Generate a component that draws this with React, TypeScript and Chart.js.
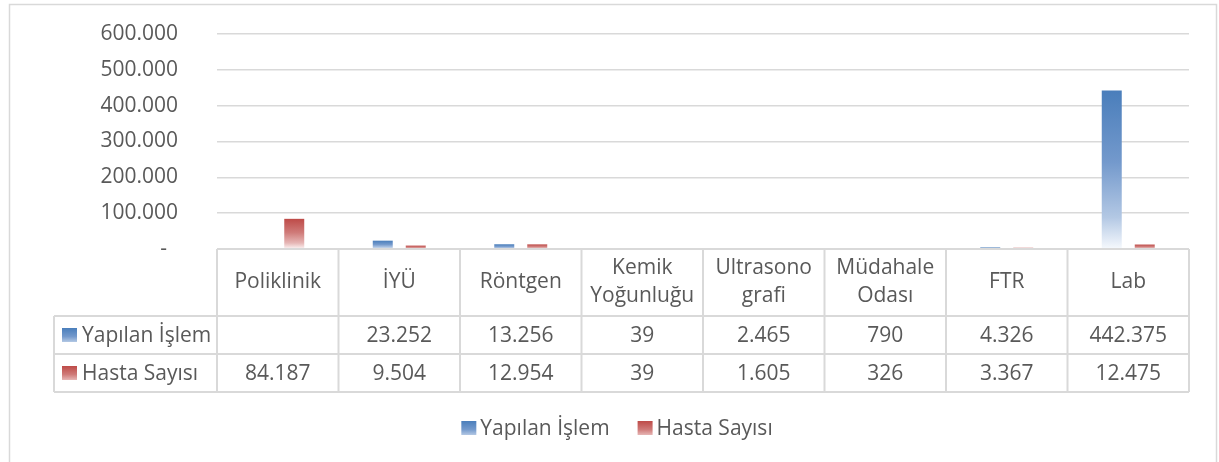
import React, { useEffect, useRef } from "react";
import { Chart, registerables } from "chart.js";

Chart.register(...registerables);

// ---- data ----
const categories: string[][] = [
  ["Poliklinik"],
  ["İYÜ"],
  ["Röntgen"],
  ["Kemik", "Yoğunluğu"],
  ["Ultrasono", "grafi"],
  ["Müdahale", "Odası"],
  ["FTR"],
  ["Lab"],
];
const seriesNames = ["Yapılan İşlem", "Hasta Sayısı"];
const yapilanIslem: (number | null)[] = [null, 23252, 13256, 39, 2465, 790, 4326, 442375];
const hastaSayisi: (number | null)[] = [84187, 9504, 12954, 39, 1605, 326, 3367, 12475];
const yAxisMax = 600000;
const yAxisStep = 100000;

// ---- styles ----
const FONT = '"Open Sans", "DejaVu Sans", sans-serif';
const TEXT = "#595959";
const LINE = "#d9d9d9";
const colors = [
  { top: "#4A7EBB", mid: "#7399CC", low: "#B3C8E4", bottom: "#F6F9FD" },
  { top: "#BE4B48", mid: "#CF7A78", low: "#E6B6B5", bottom: "#FDF6F6" },
];

function fmt(v: number | null): string {
  if (v === null || v === undefined) return "";
  const s = Math.round(v).toString();
  return s.replace(/\B(?=(\d{3})+(?!\d))/g, ".");
}

function barGradient(idx: number) {
  return (ctx: any) => {
    const c = colors[idx];
    if (ctx.type !== "data") return c.top;
    const chart = ctx.chart;
    const ys = chart.scales.y;
    const v = ctx.raw;
    if (v === null || v === undefined || !ys) return "rgba(0,0,0,0)";
    const top = ys.getPixelForValue(v);
    const base = ys.getPixelForValue(0);
    if (!isFinite(top) || !isFinite(base) || base - top < 0.5) return c.top;
    const g = chart.ctx.createLinearGradient(0, top, 0, base);
    g.addColorStop(0, c.top);
    g.addColorStop(0.45, c.mid);
    g.addColorStop(0.8, c.low);
    g.addColorStop(1, c.bottom);
    return g;
  };
}

function drawKey(ctx: CanvasRenderingContext2D, idx: number, x: number, yc: number) {
  const c = colors[idx];
  const w = 15, h = 14;
  const y = yc - h / 2;
  const g = ctx.createLinearGradient(0, y, 0, y + h);
  g.addColorStop(0, c.top);
  g.addColorStop(0.6, c.mid);
  g.addColorStop(1, c.low);
  ctx.fillStyle = g;
  ctx.fillRect(x, y, w, h);
}

const tablePlugin = {
  id: "dataTable",
  beforeDraw(chart: any) {
    const ctx: CanvasRenderingContext2D = chart.ctx;
    ctx.save();
    ctx.fillStyle = "#ffffff";
    ctx.fillRect(0, 0, chart.width, chart.height);
    ctx.restore();
  },
  afterDraw(chart: any) {
    const ctx: CanvasRenderingContext2D = chart.ctx;
    const area = chart.chartArea;
    const xs = chart.scales.x;
    const n = categories.length;
    const colW = (area.right - area.left) / n;
    const top = area.bottom;
    const headerBottom = top + 67;
    const row1Bottom = headerBottom + 38;
    const row2Bottom = row1Bottom + 38;
    const labelLeft = 54;

    ctx.save();
    // chart border
    ctx.strokeStyle = LINE;
    ctx.lineWidth = 1.5;
    ctx.strokeRect(9.5, 4.5, 1207, 520);

    // table lines
    ctx.strokeStyle = LINE;
    ctx.lineWidth = 2;
    ctx.beginPath();
    ctx.moveTo(area.left, top);
    ctx.lineTo(area.right, top);
    [headerBottom, row1Bottom, row2Bottom].forEach((y) => {
      ctx.moveTo(labelLeft, y);
      ctx.lineTo(area.right, y);
    });
    for (let i = 0; i <= n; i++) {
      const x = area.left + i * colW;
      ctx.moveTo(x, top);
      ctx.lineTo(x, row2Bottom);
    }
    ctx.moveTo(labelLeft, headerBottom);
    ctx.lineTo(labelLeft, row2Bottom);
    ctx.stroke();

    // text
    ctx.fillStyle = TEXT;
    ctx.font = `21px ${FONT}`;
    ctx.textAlign = "center";
    ctx.textBaseline = "middle";
    const headerMid = (top + headerBottom) / 2;
    categories.forEach((lines, i) => {
      const cx = xs.getPixelForValue(i);
      if (lines.length === 1) {
        ctx.fillText(lines[0], cx, headerMid);
      } else {
        ctx.fillText(lines[0], cx, headerMid - 14);
        ctx.fillText(lines[1], cx, headerMid + 14);
      }
    });
    const rows = [yapilanIslem, hastaSayisi];
    const rowMids = [(headerBottom + row1Bottom) / 2, (row1Bottom + row2Bottom) / 2];
    rows.forEach((vals, r) => {
      vals.forEach((v, i) => {
        const cx = xs.getPixelForValue(i);
        ctx.fillText(fmt(v), cx, rowMids[r] + 1);
      });
    });
    // row labels
    ctx.textAlign = "left";
    seriesNames.forEach((name, r) => {
      drawKey(ctx, r, 62, rowMids[r]);
      ctx.fillStyle = TEXT;
      ctx.fillText(name, 82, rowMids[r] + 1);
    });

    // bottom legend
    const legendY = 428;
    const keyW = 15, keyGap = 4, itemGap = 28;
    const widths = seriesNames.map((s) => ctx.measureText(s).width);
    const total = widths.reduce((a, w) => a + keyW + keyGap + w, 0) + itemGap * (seriesNames.length - 1);
    let lx = 617 - total / 2;
    seriesNames.forEach((name, r) => {
      drawKey(ctx, r, lx, legendY);
      ctx.fillStyle = TEXT;
      ctx.fillText(name, lx + keyW + keyGap, legendY + 1);
      lx += keyW + keyGap + widths[r] + itemGap;
    });
    ctx.restore();
  },
};

export default function App() {
  const ref = useRef<HTMLCanvasElement | null>(null);
  useEffect(() => {
    document.body.style.margin = "0";
    if (!ref.current) return;
    const chart = new Chart(ref.current, {
      type: "bar",
      data: {
        labels: categories.map((c) => c.join(" ")),
        datasets: [
          {
            label: seriesNames[0],
            data: yapilanIslem as any,
            backgroundColor: barGradient(0),
            borderWidth: 0,
            categoryPercentage: 0.543,
            barPercentage: 0.606,
          },
          {
            label: seriesNames[1],
            data: hastaSayisi as any,
            backgroundColor: barGradient(1),
            borderWidth: 0,
            categoryPercentage: 0.543,
            barPercentage: 0.606,
          },
        ],
      },
      options: {
        animation: false,
        responsive: false,
        maintainAspectRatio: false,
        layout: { padding: { left: 0, top: 34, right: 30, bottom: 213 } },
        plugins: {
          legend: { display: false },
          tooltip: { enabled: false },
          title: { display: false },
        },
        scales: {
          x: { display: false, offset: true },
          y: {
            min: 0,
            max: yAxisMax,
            afterFit(scale: any) {
              scale.width = 217;
            },
            ticks: {
              stepSize: yAxisStep,
              padding: 0,
              color: TEXT,
              font: { family: FONT, size: 21 },
              callback: (v: any) => (Number(v) === 0 ? "-  " : fmt(Number(v))),
            },
            grid: {
              color: LINE,
              lineWidth: 1.5,
              drawTicks: true,
              tickLength: 39,
              tickColor: "rgba(0,0,0,0)",
            },
            border: { display: false },
          },
        },
      },
      plugins: [tablePlugin],
    });
    return () => chart.destroy();
  }, []);
  return (
    <div style={{ width: 1219, height: 462, position: "relative" }}>
      <canvas ref={ref} width={1219} height={462} style={{ display: "block", width: 1219, height: 462 }} />
    </div>
  );
}
